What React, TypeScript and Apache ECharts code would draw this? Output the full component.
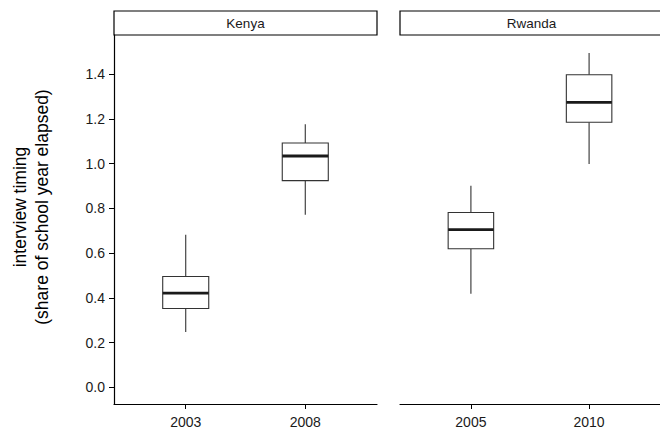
import React, { useEffect, useRef } from "react";
import * as echarts from "echarts";

const kenyaYears = ["2003", "2008"];
const kenyaLow = [0.247, 0.771];
const kenyaQ1 = [0.352, 0.924];
const kenyaMedian = [0.421, 1.034];
const kenyaQ3 = [0.495, 1.092];
const kenyaHigh = [0.682, 1.176];

const rwandaYears = ["2005", "2010"];
const rwandaLow = [0.418, 0.998];
const rwandaQ1 = [0.619, 1.185];
const rwandaMedian = [0.705, 1.274];
const rwandaQ3 = [0.781, 1.397];
const rwandaHigh = [0.901, 1.494];

const yTicks = [0, 0.2, 0.4, 0.6, 0.8, 1.0, 1.2, 1.4];
const panelTitles = ["Kenya", "Rwanda"];
const yTitleLines = ["interview timing", "(share of school year elapsed)"];

const FONT = "'Liberation Sans', Arial, Helvetica, sans-serif";
const BOX_WIDTH = 0.385;

function buildData(low: number[], q1: number[], med: number[], q3: number[], high: number[]) {
  return low.map((_, i) => [i + 1, low[i], q1[i], med[i], q3[i], high[i]]);
}

function renderBox(params: any, api: any) {
  const x = api.value(0);
  const pLow = api.coord([x, api.value(1)]);
  const pQ1 = api.coord([x, api.value(2)]);
  const pMed = api.coord([x, api.value(3)]);
  const pQ3 = api.coord([x, api.value(4)]);
  const pHigh = api.coord([x, api.value(5)]);
  const half = api.size([BOX_WIDTH, 0])[0] / 2;
  const cx = pMed[0];
  const stroke = "#333333";
  return {
    type: "group",
    children: [
      { type: "line", shape: { x1: cx, y1: pHigh[1], x2: cx, y2: pQ3[1] }, style: { stroke, lineWidth: 1.1 } },
      { type: "line", shape: { x1: cx, y1: pQ1[1], x2: cx, y2: pLow[1] }, style: { stroke, lineWidth: 1.1 } },
      {
        type: "rect",
        shape: { x: cx - half, y: pQ3[1], width: half * 2, height: pQ1[1] - pQ3[1] },
        style: { fill: "#ffffff", stroke, lineWidth: 1.1 },
      },
      { type: "line", shape: { x1: cx - half, y1: pMed[1], x2: cx + half, y2: pMed[1] }, style: { stroke: "#1a1a1a", lineWidth: 2.8 } },
    ],
  };
}

function xAxisFor(gridIndex: number, years: string[]) {
  return {
    type: "value",
    gridIndex,
    min: 0.4,
    max: 2.6,
    axisLine: { show: true, onZero: false, lineStyle: { color: "#000", width: 1.2 } },
    axisTick: { show: true, length: 5, lineStyle: { color: "#000", width: 1 }, customValues: [1, 2] },
    axisLabel: {
      show: true,
      customValues: [1, 2],
      formatter: (v: number) => years[Math.round(v) - 1] ?? "",
      color: "#1a1a1a",
      fontSize: 14,
      fontFamily: FONT,
      margin: 11,
    },
    splitLine: { show: false },
  };
}

export default function App() {
  const ref = useRef<HTMLDivElement>(null);
  useEffect(() => {
    if (!ref.current) return;
    const chart = echarts.init(ref.current, null, { renderer: "svg" });
    const option: any = {
      animation: false,
      backgroundColor: "#ffffff",
      grid: [
        { left: 114, top: 35, width: 263, height: 369 },
        { left: 400, top: 35, width: 263, height: 369 },
      ],
      xAxis: [xAxisFor(0, kenyaYears), xAxisFor(1, rwandaYears)],
      yAxis: [
        {
          type: "value",
          gridIndex: 0,
          min: -0.075,
          max: 1.575,
          axisLine: { show: true, onZero: false, lineStyle: { color: "#000", width: 1.2 } },
          axisTick: { show: true, length: 5, lineStyle: { color: "#000", width: 1 }, customValues: yTicks },
          axisLabel: {
            show: true,
            customValues: yTicks,
            formatter: (v: number) => v.toFixed(1),
            color: "#1a1a1a",
            fontSize: 14,
            fontFamily: FONT,
            margin: 9,
          },
          splitLine: { show: false },
        },
        {
          type: "value",
          gridIndex: 1,
          min: -0.075,
          max: 1.575,
          show: false,
          splitLine: { show: false },
        },
      ],
      series: [
        {
          type: "custom",
          xAxisIndex: 0,
          yAxisIndex: 0,
          renderItem: renderBox,
          data: buildData(kenyaLow, kenyaQ1, kenyaMedian, kenyaQ3, kenyaHigh),
          encode: { x: 0, y: [1, 2, 3, 4, 5] },
          clip: false,
        },
        {
          type: "custom",
          xAxisIndex: 1,
          yAxisIndex: 1,
          renderItem: renderBox,
          data: buildData(rwandaLow, rwandaQ1, rwandaMedian, rwandaQ3, rwandaHigh),
          encode: { x: 0, y: [1, 2, 3, 4, 5] },
          clip: false,
        },
      ],
      graphic: [
        {
          type: "rect",
          shape: { x: 114, y: 11, width: 263, height: 24 },
          style: { fill: "#ffffff", stroke: "#000", lineWidth: 1.2 },
        },
        {
          type: "text",
          x: 114 + 263 / 2,
          y: 23,
          style: { text: panelTitles[0], fontSize: 13.5, fontFamily: FONT, fill: "#1a1a1a", textAlign: "center", textVerticalAlign: "middle" },
        },
        {
          type: "rect",
          shape: { x: 400, y: 11, width: 263, height: 24 },
          style: { fill: "#ffffff", stroke: "#000", lineWidth: 1.2 },
        },
        {
          type: "text",
          x: 400 + 263 / 2,
          y: 23,
          style: { text: panelTitles[1], fontSize: 13.5, fontFamily: FONT, fill: "#1a1a1a", textAlign: "center", textVerticalAlign: "middle" },
        },
        {
          type: "text",
          x: 31,
          y: 207,
          rotation: Math.PI / 2,
          style: {
            text: yTitleLines.join("\n"),
            fontSize: 17.5,
            lineHeight: 22,
            fontFamily: FONT,
            fill: "#000",
            textAlign: "center",
            textVerticalAlign: "middle",
          },
        },
      ],
    };
    chart.setOption(option);
    return () => chart.dispose();
  }, []);
  return <div ref={ref} style={{ width: 660, height: 433, position: "absolute", left: 0, top: 0 }} />;
}
